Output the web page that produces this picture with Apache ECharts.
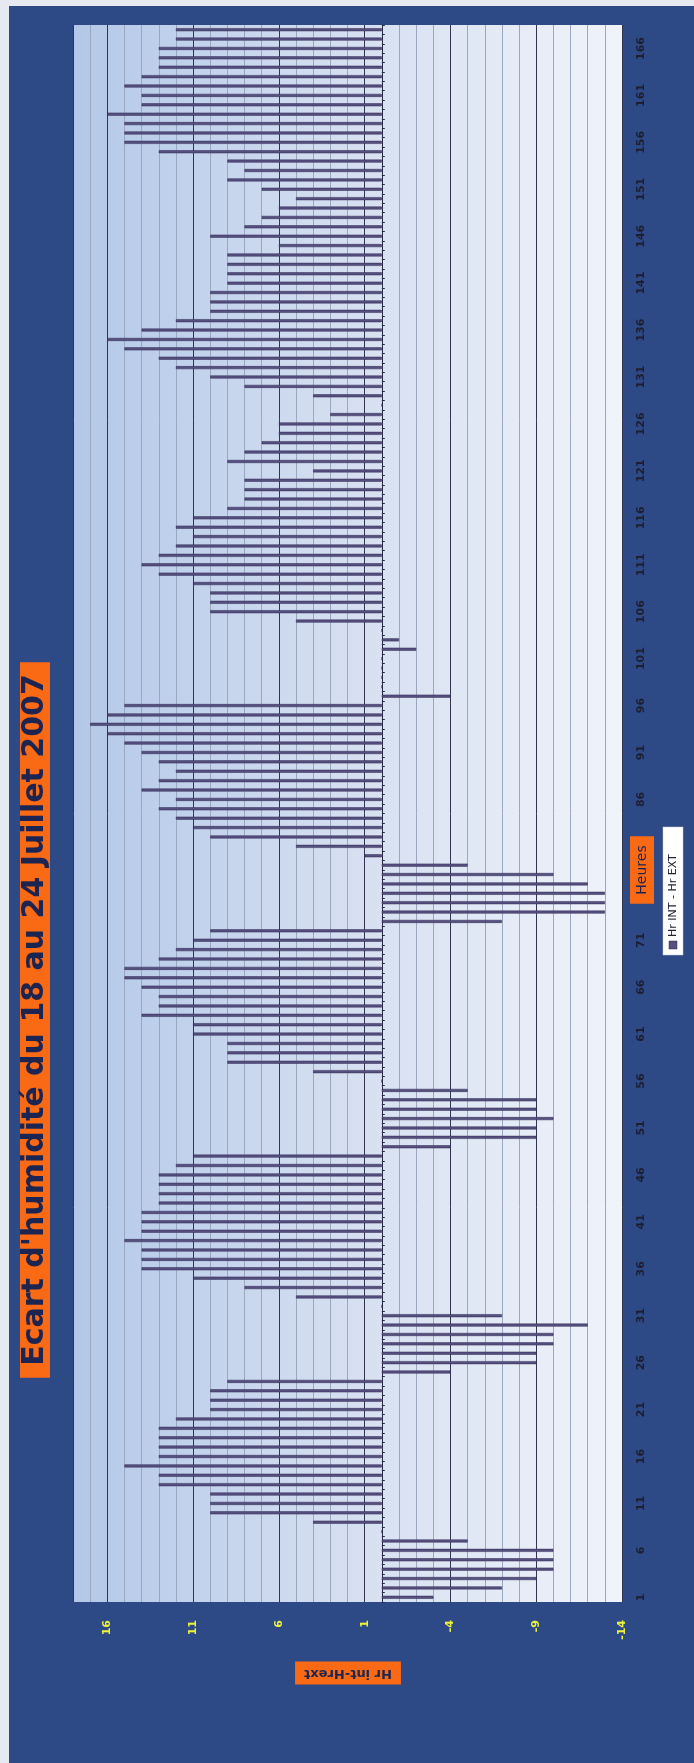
<!DOCTYPE html>
<html>
<head>
<meta charset="utf-8">
<title>Ecart d'humidité du 18 au 24 Juillet 2007</title>
<script src="https://cdn.jsdelivr.net/npm/echarts@6/dist/echarts.min.js"></script>
<style>
  html, body { margin: 0; padding: 0; background: #e6e9ef; }
  #chart { width: 694px; height: 1763px; }
</style>
</head>
<body>
<div id="chart"></div>
<script>
// Hour index over the week (18 -> 24 July 2007)
const heures = [
  1,2,3,4,5,6,7,8,9,10,11,12,13,14,15,16,17,18,19,20,21,22,23,24,
  25,26,27,28,29,30,31,32,33,34,35,36,37,38,39,40,41,42,43,44,45,46,47,48,
  49,50,51,52,53,54,55,56,57,58,59,60,61,62,63,64,65,66,67,68,69,70,71,72,
  73,74,75,76,77,78,79,80,81,82,83,84,85,86,87,88,89,90,91,92,93,94,95,96,
  97,98,99,100,101,102,103,104,105,106,107,108,109,110,111,112,113,114,115,116,117,118,119,120,
  121,122,123,124,125,126,127,128,129,130,131,132,133,134,135,136,137,138,139,140,141,142,143,144,
  145,146,147,148,149,150,151,152,153,154,155,156,157,158,159,160,161,162,163,164,165,166,167,168
];

// Hr INT - Hr EXT, one value per hour
const ecartHr = [
  -3,-7,-9,-10,-10,-10,-5,0,4,10,10,10,13,13,15,13,13,13,13,12,10,10,10,9,
  -4,-9,-9,-10,-10,-12,-7,0,5,8,11,14,14,14,15,14,14,14,13,13,13,13,12,11,
  -4,-9,-9,-10,-9,-9,-5,0,4,9,9,9,11,11,14,13,13,14,15,15,13,12,11,10,
  -7,-13,-13,-13,-12,-10,-5,1,5,10,11,12,13,12,14,13,12,13,14,15,16,17,16,15,
  -4,0,0,0,0,-2,-1,0,5,10,10,10,11,13,14,13,12,11,12,11,9,8,8,8,
  4,9,8,7,6,6,3,0,4,8,10,12,13,15,16,14,12,10,10,10,9,9,9,9,
  6,10,8,7,6,5,7,9,8,9,13,15,15,15,16,14,14,15,14,13,13,13,12,12
];

// Value axis range and step
const valeurMin = -14;
const valeurMax = 18;
const pasMajeur = 5;
const pasMineur = 1;

const titre = "Ecart d'humidité du 18 au 24 Juillet 2007";
const nomAxeValeurs = 'Hr int-Hrext';
const nomAxeHeures = 'Heures';
const nomSerie = 'Hr INT - Hr EXT';

const orange = '#fa6a14';
const encre = '#1c2452';
const barre = '#574f80';

const chart = echarts.init(document.getElementById('chart'), null, { renderer: 'canvas' });

chart.setOption({
  animation: false,
  backgroundColor: 'transparent',
  grid: {
    left: 73, right: 72, top: 25, bottom: 161,
    show: true,
    borderWidth: 0,
    backgroundColor: new echarts.graphic.LinearGradient(0, 0, 1, 0, [
      { offset: 0, color: '#b3c8e8' },
      { offset: 0.45, color: '#d2ddf0' },
      { offset: 1, color: '#f0f3fa' }
    ])
  },
  xAxis: [
    {
      type: 'value', inverse: true,
      min: valeurMin, max: valeurMax, interval: pasMajeur,
      z: 1,
      axisLine: { show: false },
      axisTick: { show: false },
      axisLabel: {
        rotate: 90, margin: 18, showMaxLabel: false,
        color: '#eef23a', fontWeight: 'bold', fontSize: 11, fontFamily: 'DejaVu Sans'
      },
      splitLine: { show: true, lineStyle: { color: '#34344f', width: 1 } }
    },
    {
      type: 'value', inverse: true,
      min: valeurMin, max: valeurMax, interval: pasMineur,
      z: 0,
      axisLine: { show: false },
      axisTick: { show: false },
      axisLabel: { show: false },
      splitLine: { show: true, lineStyle: { color: '#9ba7bf', width: 1 } }
    }
  ],
  yAxis: {
    type: 'category',
    data: heures,
    position: 'right',
    axisLine: { onZero: true, lineStyle: { color: '#2a2a44', width: 1 } },
    axisTick: { show: true, interval: 0, length: 3, lineStyle: { color: '#2a2a44' } },
    axisLabel: {
      interval: 4, rotate: 90, margin: 14,
      color: '#1e1e30', fontWeight: 'bold', fontSize: 11, fontFamily: 'DejaVu Sans'
    },
    splitLine: { show: false }
  },
  series: [{
    name: nomSerie,
    type: 'bar',
    xAxisIndex: 0,
    data: ecartHr,
    barWidth: 3,
    itemStyle: { color: barre, borderColor: '#2c2a50', borderWidth: 0.5 }
  }],
  graphic: [
    {
      type: 'rect', z: -100, silent: true,
      shape: { x: 9, y: 6, width: 685, height: 1757 },
      style: { fill: '#2d4a87' }
    },
    {
      type: 'text', x: 35, y: 1020, rotation: Math.PI / 2, z: 10,
      style: {
        text: titre, align: 'center', verticalAlign: 'middle',
        font: 'bold 30px "DejaVu Sans"', fill: encre,
        backgroundColor: orange, padding: [0, 12]
      }
    },
    {
      type: 'text', x: 348, y: 1673, rotation: Math.PI, z: 10,
      style: {
        text: nomAxeValeurs, align: 'center', verticalAlign: 'middle',
        font: 'bold 13px "DejaVu Sans"', fill: encre,
        backgroundColor: orange, padding: [5, 9]
      }
    },
    {
      type: 'text', x: 642, y: 870, rotation: Math.PI / 2, z: 10,
      style: {
        text: nomAxeHeures, align: 'center', verticalAlign: 'middle',
        font: '14px "DejaVu Sans"', fill: encre,
        backgroundColor: orange, padding: [5, 9]
      }
    },
    {
      type: 'group', x: 673, y: 955, rotation: Math.PI / 2, z: 10,
      children: [
        { type: 'rect', shape: { x: 0, y: -10, width: 128, height: 20 }, style: { fill: '#ffffff', stroke: '#c8ccd8', lineWidth: 0.5 } },
        { type: 'rect', shape: { x: 6, y: -4, width: 8, height: 8 }, style: { fill: barre, stroke: '#2c2a50', lineWidth: 0.5 } },
        { type: 'text', x: 18, y: 0, style: { text: nomSerie, verticalAlign: 'middle', font: '11px "DejaVu Sans"', fill: '#222233' } }
      ]
    }
  ]
});
</script>
</body>
</html>
